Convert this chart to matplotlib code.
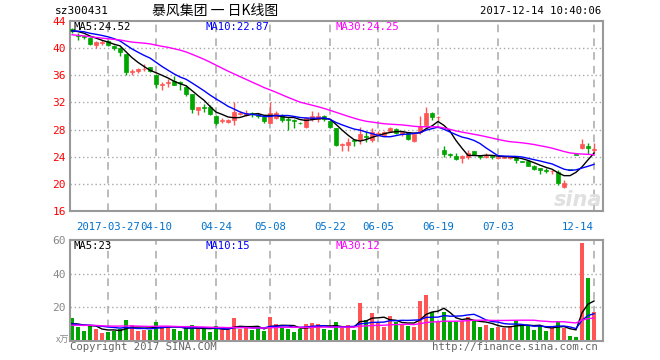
import matplotlib
matplotlib.use("Agg")
import matplotlib.pyplot as plt
import numpy as np
import pandas as pd

# ---------------- data ----------------
open_ = [42.8, 42.0, 41.8, 41.5, 40.5, 40.7, 41.0, 40.3, 40.0, 39.1,
         36.5, 36.6, 36.9, 37.2, 36.1, 34.6, 34.9, 35.1, 35.0, 34.2,
         33.2, 30.9, 31.3, 31.4, 30.0, 29.3, 29.1, 29.4, 30.3, 30.2,
         30.5, 30.2, 29.9, 29.0, 29.7, 30.1, 29.6, 29.4, 29.0, 28.4,
         29.6, 29.6, 30.0, 29.2, 28.2, 25.8, 25.8, 26.4, 26.4, 27.1,
         26.5, 27.4, 27.2, 27.8, 28.1, 27.3, 27.6, 26.3, 27.6, 28.7,
         30.5, 29.8, 25.0, 24.4, 24.1, 23.8, 24.0, 24.8, 24.1, 24.0,
         24.1, 23.8, 23.85, 23.8, 24.0, 23.35, 23.4, 22.7, 22.3, 22.0,
         21.85, 21.8, 19.6, 22.1, 24.3, 25.3, 25.6, 25.0]
high = [43.0, 42.3, 42.0, 41.6, 41.0, 41.2, 41.2, 40.5, 40.1, 39.2,
        37.0, 37.1, 37.6, 37.2, 36.2, 35.0, 35.4, 35.9, 35.1, 34.6,
        33.3, 31.4, 31.7, 31.6, 30.1, 29.7, 29.6, 32.1, 30.8, 30.9,
        30.6, 30.4, 30.2, 32.1, 30.7, 30.3, 29.8, 29.5, 29.1, 29.8,
        30.8, 30.6, 30.2, 29.4, 28.3, 26.0, 26.7, 26.5, 28.4, 27.8,
        28.3, 27.8, 27.8, 28.4, 28.3, 27.8, 27.7, 27.4, 30.0, 31.4,
        30.6, 30.0, 25.6, 24.5, 24.6, 24.2, 25.0, 24.9, 24.3, 24.6,
        24.1, 24.1, 24.05, 24.0, 24.1, 23.4, 23.45, 22.8, 22.4, 22.3,
        22.1, 22.1, 20.6, 22.1, 24.3, 26.6, 26.0, 26.0]
low = [42.3, 41.2, 41.3, 40.4, 40.0, 40.5, 40.3, 39.8, 38.9, 36.1,
       36.0, 36.4, 36.6, 36.5, 34.1, 33.8, 34.2, 34.5, 33.9, 32.9,
       30.4, 30.2, 30.6, 30.1, 28.7, 28.9, 28.9, 28.7, 30.1, 30.0,
       29.8, 29.7, 29.0, 28.9, 29.5, 29.1, 27.9, 28.3, 28.8, 28.3,
       29.2, 29.1, 29.3, 28.2, 25.6, 24.8, 24.8, 25.6, 25.8, 26.2,
       26.2, 27.0, 27.1, 27.7, 27.4, 27.0, 26.5, 26.2, 27.4, 28.4,
       29.4, 29.3, 24.0, 24.0, 23.5, 23.1, 23.7, 24.2, 23.7, 23.8,
       23.6, 23.7, 23.75, 23.7, 23.1, 23.2, 22.6, 22.1, 21.4, 21.6,
       21.45, 19.8, 19.4, 22.1, 24.3, 25.1, 24.4, 24.5]
close = [42.5, 41.8, 41.6, 40.6, 40.9, 40.9, 40.5, 40.0, 39.4, 36.5,
         36.6, 37.0, 37.0, 36.6, 34.7, 34.7, 35.0, 34.6, 34.8, 33.2,
         31.1, 31.3, 31.2, 30.3, 29.0, 29.4, 29.4, 30.6, 30.5, 30.4,
         30.3, 30.0, 29.3, 30.4, 30.4, 29.4, 29.4, 29.3, 28.9, 29.7,
         30.0, 30.0, 29.6, 28.4, 25.8, 25.9, 26.2, 26.3, 27.3, 26.9,
         27.6, 27.5, 27.6, 28.3, 27.5, 27.7, 26.6, 27.3, 28.5, 30.5,
         29.8, 29.85, 24.4, 24.2, 23.7, 24.1, 24.6, 24.3, 24.0, 24.1,
         24.0, 24.0, 23.95, 23.9, 23.5, 23.25, 22.7, 22.25, 22.1, 21.85,
         21.9, 20.1, 20.1, 22.1, 24.3, 25.9, 25.3, 25.1]
volume = [13.9, 8.5, 6.0, 9.1, 7.2, 4.8, 5.6, 6.2, 7.2, 12.5,
          9.5, 6.0, 6.6, 6.6, 11.3, 8.7, 8.5, 7.0, 6.0, 7.6,
          9.5, 7.4, 7.0, 5.2, 9.1, 6.6, 6.6, 13.9, 7.4, 8.2,
          6.6, 7.6, 6.0, 14.5, 10.1, 8.5, 7.2, 5.6, 7.0, 10.1,
          10.9, 9.9, 7.2, 6.6, 11.1, 7.9, 9.5, 6.6, 22.6, 12.5,
          16.7, 10.5, 8.4, 14.9, 11.1, 10.1, 8.9, 8.4, 24.0, 27.4,
          17.3, 11.5, 17.1, 11.5, 11.5, 11.9, 14.5, 11.9, 8.4, 9.5,
          7.8, 8.4, 8.0, 8.4, 12.1, 9.5, 9.1, 6.6, 9.5, 6.0,
          7.6, 11.9, 8.0, 3.0, 2.6, 58.2, 37.7, 17.3]
# closes / volumes of the 29 sessions before the first visible one (feed the moving averages)
prior_close = [44.5, 44.0, 44.3, 43.8, 44.0, 43.2, 42.8, 42.0, 41.5, 41.0,
               39.5, 39.2, 39.8, 40.2, 40.0, 39.6, 40.5, 41.0, 41.3, 41.5,
               42.2, 42.5, 42.8, 42.4, 42.6, 42.5, 42.8, 42.7, 42.4]
prior_volume = [8, 9, 7, 10, 12, 9, 8, 7, 11, 9,
                8, 10, 9, 7, 8, 9, 11, 10, 8, 9,
                12, 10, 9, 11, 8, 10, 9, 11, 8]
date_tick_idx = [6, 14, 24, 33, 43, 51, 61, 71, 87]
date_tick_labels = ["2017-03-27", "04-10", "04-24", "05-08", "05-22",
                    "06-05", "06-19", "07-03", "12-14"]
price_ticks = [16, 20, 24, 28, 32, 36, 40, 44]
vol_ticks = [20, 40, 60]
price_ma_labels = ["MA5:24.52", "MA10:22.87", "MA30:24.25"]
vol_ma_labels = ["MA5:23", "MA10:15", "MA30:12"]
title_code = "sz300431"
title_name = "暴风集团 一 日K线图"
title_time = "2017-12-14 10:40:06"

# ---------------- style ----------------
RED = "#FF5555"
GREEN = "#00A600"
MA_COLORS = ["#000000", "#0000FF", "#FF00FF"]
GRID = "#A8A8A8"
FRAME = "#999999"
MONO = "DejaVu Sans Mono"
FS = 7.4
W, H = 660, 360

n = len(close)
x = np.arange(n)
o = np.array(open_); c = np.array(close); hi = np.array(high); lo = np.array(low)
v = np.array(volume)
up = c > o
colors = [RED if u else GREEN for u in up]

cs = pd.Series(prior_close + close)
vs = pd.Series(prior_volume + volume)
k = len(prior_close)
price_ma = [cs.rolling(w).mean().values[k:] for w in (5, 10, 30)]
vol_ma = [vs.rolling(w).mean().values[k:] for w in (5, 10, 30)]

fig = plt.figure(figsize=(W / 100, H / 100), dpi=100)
fig.patch.set_facecolor("white")

def fx(px):
    return px / W

def fy(py):
    return 1 - py / H

L, R = 70, 603
ax = fig.add_axes([fx(L), fy(211), fx(R - L), fy(21) - fy(211)])
axv = fig.add_axes([fx(L), fy(341), fx(R - L), fy(240) - fy(341)])

xlim = (-1 / 3, 88.5)
for a in (ax, axv):
    a.set_xlim(*xlim)
    for s in a.spines.values():
        s.set_color(FRAME)
        s.set_linewidth(1.5)
    a.set_xticks([])
    for t in date_tick_idx:
        a.axvline(t, color=GRID, lw=1.1, ls=(0, (5, 4)), zorder=0)

# price panel
ax.set_ylim(16, 44)
ax.set_yticks(price_ticks)
ax.set_yticklabels([str(t) for t in price_ticks], family=MONO, fontsize=FS + 0.6)
ax.tick_params(axis="y", length=0, pad=3, labelcolor="#FF0000")
for t in price_ticks[1:-1]:
    ax.axhline(t, color=GRID, lw=1, ls=(0, (1, 2)), zorder=0)

ax.vlines(x, lo, hi, colors=colors, lw=1, zorder=2)
body_h = np.maximum(np.abs(c - o), 0.06)
ax.bar(x, body_h, bottom=np.minimum(o, c), width=0.75, color=colors,
       edgecolor=colors, linewidth=0.5, zorder=3)
for ma, col in zip(price_ma, MA_COLORS):
    ax.plot(x, ma, color=col, lw=1, zorder=4)

ax.text(fx(578), fy(200), "sina", transform=fig.transFigure, fontsize=15,
        fontweight="bold", style="italic", color="#E0E0E0", ha="center",
        va="center", zorder=1)

# volume panel
axv.set_ylim(0, 60)
axv.set_yticks(vol_ticks)
axv.set_yticklabels([str(t) for t in vol_ticks], family=MONO, fontsize=FS + 0.6)
axv.tick_params(axis="y", length=0, pad=3, labelcolor="#888888")
for t in vol_ticks[:-1]:
    axv.axhline(t, color=GRID, lw=1, ls=(0, (1, 2)), zorder=0)
axv.bar(x, v, width=0.78, color=colors, zorder=2)
for ma, col in zip(vol_ma, MA_COLORS):
    axv.plot(x, ma, color=col, lw=1, zorder=4)

# MA legends
for lab, col, px in zip(price_ma_labels, MA_COLORS, (73, 205, 335)):
    fig.text(fx(px), fy(27), lab, color=col, family=MONO, fontsize=FS + 0.3,
             va="center", ha="left")
for lab, col, px in zip(vol_ma_labels, MA_COLORS, (74, 205, 335)):
    fig.text(fx(px), fy(246), lab, color=col, family=MONO, fontsize=FS + 0.3,
             va="center", ha="left")

# date labels
for t, lab in zip(date_tick_idx, date_tick_labels):
    xp = ax.transData.transform((t, 0))[0]
    if t == date_tick_idx[-1]:
        fig.text(fx(594), fy(227), lab, color="#0070CC", family=MONO,
                 fontsize=FS + 0.3, ha="right", va="center")
    else:
        fig.text(xp / W, fy(227), lab, color="#0070CC", family=MONO,
                 fontsize=FS + 0.3, ha="center", va="center")

# header
fig.text(fx(55), fy(11), title_code, family=MONO, fontsize=FS + 0.6, va="center")
fig.text(fx(152), fy(11), title_name, family=["Noto Sans CJK SC", "DejaVu Sans"],
         fontsize=10, va="center")
fig.text(fx(601), fy(11), title_time, family=MONO, fontsize=FS + 0.3, va="center",
         ha="right")

# footer
fig.text(fx(56), fy(340), "x万", family=["Noto Sans CJK SC", "DejaVu Sans"],
         fontsize=6.5, color="#888888", va="center")
fig.text(fx(70), fy(347), "Copyright 2017 SINA.COM", family=MONO, fontsize=FS + 0.3,
         color="#666666", va="center")
fig.text(fx(598), fy(347), "http://finance.sina.com.cn", family=MONO, fontsize=FS + 0.3,
         color="#666666", va="center", ha="right")

fig.savefig("out.png", dpi=100)
